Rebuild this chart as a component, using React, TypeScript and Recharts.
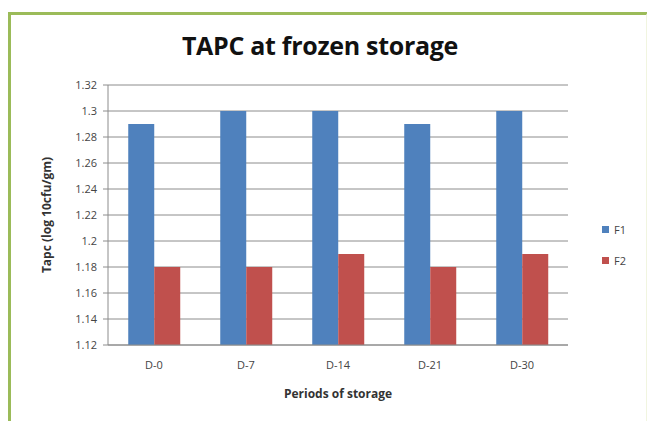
import { Bar, BarChart, CartesianGrid, XAxis, YAxis } from "recharts";

const periods = ["D-0", "D-7", "D-14", "D-21", "D-30"];
const f1Values = [1.29, 1.3, 1.3, 1.29, 1.3];
const f2Values = [1.18, 1.18, 1.19, 1.18, 1.19];
const yTicks = [1.12, 1.14, 1.16, 1.18, 1.2, 1.22, 1.24, 1.26, 1.28, 1.3, 1.32];

const chartData = periods.map((period, i) => ({
   period,
   F1: f1Values[i],
   F2: f2Values[i],
}));

const BLUE = "#4f81bd";
const RED = "#c0504d";
const GRID = "#8c8c8c";
const FONT = "'Open Sans', 'Liberation Sans', sans-serif";

const formatTick = (v: number) => String(Number(v.toFixed(2)));

export default function App() {
   return (
      <div
         style={{
            position: "absolute",
            left: 0,
            top: 0,
            width: 647,
            height: 421,
            background: "#ffffff",
            overflow: "hidden",
            fontFamily: FONT,
         }}
      >
         {/* frame */}
         <div
            style={{
               position: "absolute",
               left: 8,
               top: 12,
               width: 640,
               height: 420,
               borderTop: "3px solid #9bbb59",
               borderLeft: "3px solid #9bbb59",
               borderRight: "2px solid #f1f5e0",
               boxSizing: "border-box",
            }}
         />
         <div
            style={{
               position: "absolute",
               left: 0,
               top: 28,
               width: 640,
               textAlign: "center",
               fontSize: 25,
               fontWeight: 700,
               color: "#111",
               letterSpacing: -0.3,
            }}
         >
            TAPC at frozen storage
         </div>
         <div
            style={{
               position: "absolute",
               left: 46,
               top: 215,
               transform: "translate(-50%, -50%) rotate(-90deg)",
               whiteSpace: "nowrap",
               fontSize: 12,
               fontWeight: 700,
               color: "#333",
            }}
         >
            Tapc (log 10cfu/gm)
         </div>
         <div
            style={{
               position: "absolute",
               left: 108,
               width: 460,
               top: 385,
               textAlign: "center",
               fontSize: 12,
               fontWeight: 700,
               color: "#333",
            }}
         >
            Periods of storage
         </div>
         <div style={{ position: "absolute", left: 0, top: 0 }}>
            <BarChart
               width={647}
               height={421}
               data={chartData}
               margin={{ top: 85, right: 79, bottom: 46, left: 58 }}
               barCategoryGap="22%"
               barGap={0}
            >
               <CartesianGrid vertical={false} stroke={GRID} strokeWidth={1} />
               <XAxis
                  dataKey="period"
                  height={30}
                  axisLine={{ stroke: GRID }}
                  tickLine={false}
                  tick={{ fill: "#444", fontSize: 11, fontFamily: FONT }}
                  tickMargin={10}
               />
               <YAxis
                  width={50}
                  domain={[1.12, 1.32]}
                  ticks={yTicks}
                  tickFormatter={formatTick}
                  axisLine={{ stroke: GRID }}
                  tickLine={{ stroke: GRID }}
                  tickSize={5}
                  tickMargin={6}
                  allowDataOverflow
                  tick={{ fill: "#444", fontSize: 11, fontFamily: FONT }}
               />
               <Bar dataKey="F1" fill={BLUE} isAnimationActive={false} />
               <Bar dataKey="F2" fill={RED} isAnimationActive={false} />
            </BarChart>
         </div>
         {/* legend */}
         {[
            { name: "F1", color: BLUE, y: 230 },
            { name: "F2", color: RED, y: 261 },
         ].map((item) => (
            <div
               key={item.name}
               style={{
                  position: "absolute",
                  left: 602,
                  top: item.y - 8,
                  display: "flex",
                  alignItems: "center",
                  fontSize: 11,
                  color: "#444",
               }}
            >
               <span style={{ width: 7, height: 7, background: item.color, marginRight: 5 }} />
               {item.name}
            </div>
         ))}
      </div>
   );
}
